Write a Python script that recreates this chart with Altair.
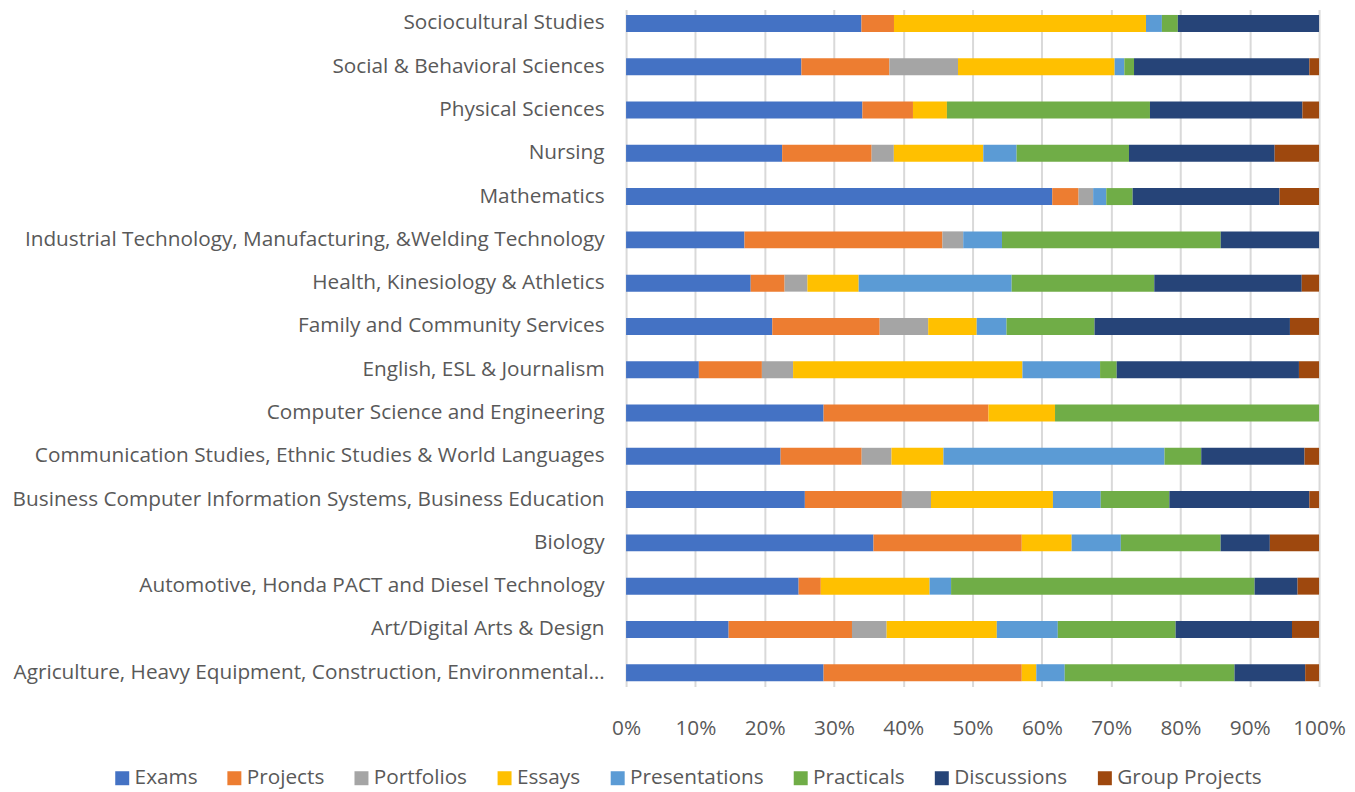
import altair as alt
import pandas as pd

categories = [
    "Sociocultural Studies",
    "Social & Behavioral Sciences",
    "Physical Sciences",
    "Nursing ",
    "Mathematics",
    "Industrial Technology, Manufacturing, &Welding Technology",
    "Health, Kinesiology & Athletics",
    "Family and Community Services",
    "English, ESL & Journalism",
    "Computer Science and Engineering",
    "Communication Studies, Ethnic Studies & World Languages",
    "Business Computer Information Systems, Business Education",
    "Biology",
    "Automotive, Honda PACT and Diesel Technology ",
    "Art/Digital Arts & Design",
    "Agriculture, Heavy Equipment, Construction, Environmental…",
]

series = ["Exams", "Projects", "Portfolios", "Essays", "Presentations",
          "Practicals", "Discussions", "Group Projects"]
colors = ["#4472C4", "#ED7D31", "#A5A5A5", "#FFC000", "#5B9BD5",
          "#70AD47", "#264478", "#9E480E"]

# percentages per category, same order as categories
exams =         [34.0, 25.3, 34.1, 22.5, 61.5, 17.1, 18.0, 21.1, 10.5, 28.5, 22.3, 25.8, 35.7, 24.9, 14.8, 28.5]
projects =      [4.7, 12.7, 7.3, 12.9, 3.8, 28.6, 4.9, 15.5, 9.1, 23.8, 11.7, 14.0, 21.4, 3.2, 17.8, 28.6]
portfolios =    [0.0, 9.9, 0.0, 3.2, 2.1, 3.0, 3.3, 7.0, 4.5, 0.0, 4.3, 4.2, 0.0, 0.0, 5.0, 0.0]
essays =        [36.4, 22.6, 4.9, 12.9, 0.0, 0.0, 7.4, 7.0, 33.1, 9.6, 7.5, 17.6, 7.2, 15.7, 15.9, 2.1]
presentations = [2.3, 1.4, 0.0, 4.8, 1.9, 5.6, 22.1, 4.3, 11.2, 0.0, 31.9, 6.9, 7.1, 3.1, 8.8, 4.1]
practicals =    [2.3, 1.4, 29.3, 16.2, 3.8, 31.6, 20.6, 12.7, 2.4, 38.1, 5.3, 9.9, 14.4, 43.8, 17.0, 24.5]
discussions =   [20.4, 25.3, 22.0, 21.0, 21.2, 14.2, 21.3, 28.2, 26.3, 0.0, 14.9, 20.2, 7.1, 6.2, 16.8, 10.2]
group_projects =[0.0, 1.4, 2.4, 6.4, 5.7, 0.0, 2.5, 4.2, 2.9, 0.0, 2.1, 1.4, 7.1, 3.1, 3.9, 2.0]

x_ticks = [0, 0.1, 0.2, 0.3, 0.4, 0.5, 0.6, 0.7, 0.8, 0.9, 1.0]

cols = [exams, projects, portfolios, essays, presentations, practicals,
        discussions, group_projects]
rows = []
for si, (s, vals) in enumerate(zip(series, cols)):
    for c, v in zip(categories, vals):
        rows.append({"Category": c, "Type": s, "Value": v, "Order": si})
df = pd.DataFrame(rows)

FONT = "Open Sans"
FS = 20.8

chart = alt.Chart(df).mark_bar(size=17).encode(
    y=alt.Y("Category:N", sort=categories, title=None,
            scale=alt.Scale(paddingInner=0.6, paddingOuter=0.12),
            axis=alt.Axis(ticks=False, domain=False, labelLimit=700,
                          labelPadding=22, labelFontSize=FS,
                          labelColor="#595959", labelFont=FONT, grid=False)),
    x=alt.X("Value:Q", stack="normalize", title=None,
            scale=alt.Scale(domain=[0, 1], nice=False),
            axis=alt.Axis(values=x_ticks, format=".0%", ticks=False,
                          domain=False, grid=True, gridColor="#D9D9D9",
                          gridWidth=2, labelFontSize=FS, labelColor="#595959",
                          labelFont=FONT, labelPadding=32,
                          labelFlush=False)),
    color=alt.Color("Type:N", sort=series,
                    scale=alt.Scale(domain=series, range=colors),
                    legend=alt.Legend(orient="none", direction="horizontal",
                                      legendX=-515, legendY=759, title=None,
                                      columns=8, symbolType="square",
                                      symbolSize=196, symbolStrokeWidth=0,
                                      labelFontSize=FS, labelColor="#595959",
                                      labelFont=FONT, columnPadding=26.3,
                                      labelOffset=2, labelLimit=300)),
    order=alt.Order("Order:Q"),
).properties(
    width=694, height=678,
    autosize=alt.AutoSizeParams(type="none"),
    padding={"left": 619, "top": 1, "right": 28, "bottom": 104},
).configure_view(stroke=None)

chart.save("out.html", embed_options={"renderer": "svg", "actions": False})
